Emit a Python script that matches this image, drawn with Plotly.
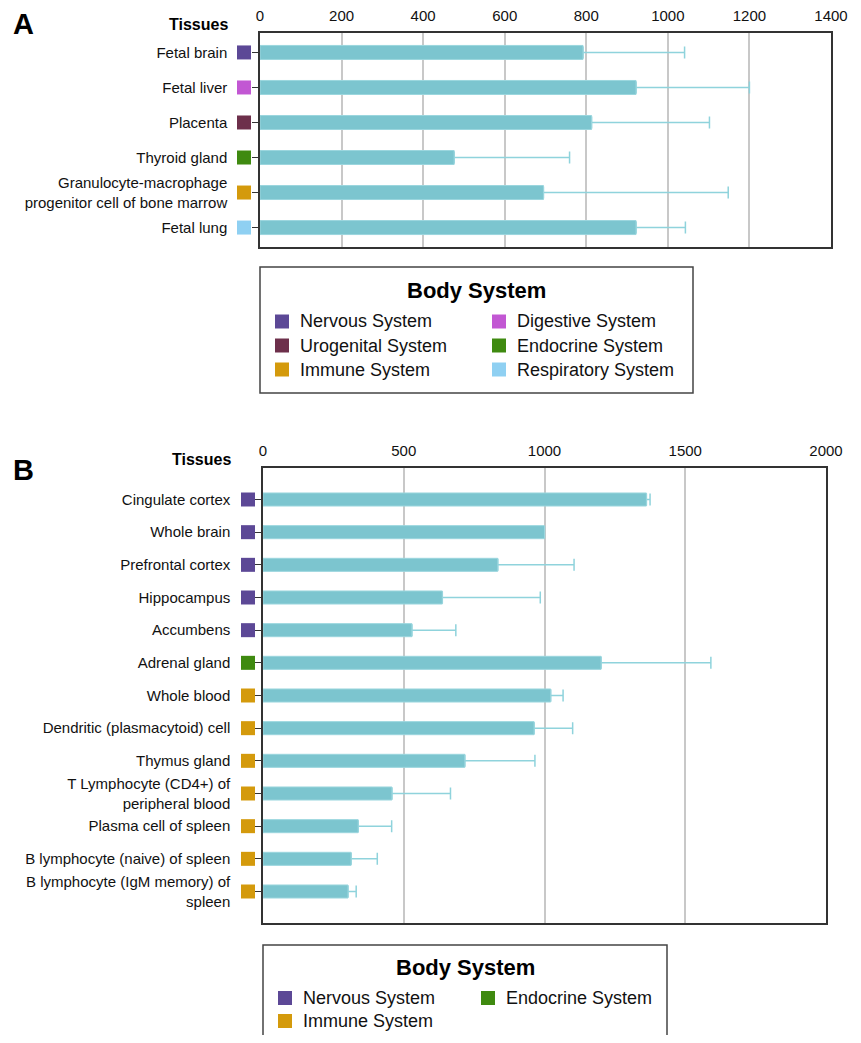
import plotly.graph_objects as go

# ---------------- data ----------------
tissues_a = ["Fetal brain", "Fetal liver", "Placenta", "Thyroid gland",
             "Granulocyte-macrophage<br>progenitor cell of bone marrow", "Fetal lung"]
values_a = [792, 922, 813, 476, 695, 922]
errors_a = [249, 278, 289, 283, 453, 121]
systems_a = ["Nervous System", "Digestive System", "Urogenital System",
             "Endocrine System", "Immune System", "Respiratory System"]
ticks_a = [0, 200, 400, 600, 800, 1000, 1200, 1400]

tissues_b = ["Cingulate cortex", "Whole brain", "Prefrontal cortex", "Hippocampus",
             "Accumbens", "Adrenal gland", "Whole blood", "Dendritic (plasmacytoid) cell",
             "Thymus gland", "T Lymphocyte (CD4+) of<br>peripheral blood",
             "Plasma cell of spleen", "B lymphocyte (naive) of spleen",
             "B lymphocyte (IgM memory) of<br>spleen"]
values_b = [1362, 1000, 834, 637, 529, 1201, 1022, 963, 717, 458, 338, 313, 302]
errors_b = [13, None, 271, 348, 156, 390, 44, 137, 249, 208, 119, 93, 29]
systems_b = ["Nervous System", "Nervous System", "Nervous System", "Nervous System",
             "Nervous System", "Endocrine System", "Immune System", "Immune System",
             "Immune System", "Immune System", "Immune System", "Immune System",
             "Immune System"]
ticks_b = [0, 500, 1000, 1500, 2000]

legend_a = ["Nervous System", "Digestive System", "Urogenital System",
            "Endocrine System", "Immune System", "Respiratory System"]
legend_b = ["Nervous System", "Endocrine System", "Immune System"]

system_colors = {
    "Nervous System": "#5c4896",
    "Digestive System": "#c257d3",
    "Urogenital System": "#6d2f4b",
    "Endocrine System": "#3f8a10",
    "Immune System": "#d49a0c",
    "Respiratory System": "#8fd0f2",
}

# ---------------- geometry helpers ----------------
PAGE_MARGIN = 8
FW, FH = 861 - 2 * PAGE_MARGIN, 1027


def fx(x):
    return (x - PAGE_MARGIN) / FW


def fy(y):
    return 1 - (y - PAGE_MARGIN) / FH


FONT = "Liberation Sans, Arial, sans-serif"
BAR = "#7cc5cf"
BAR_EDGE = "#9bd6de"
ERR = "#8fd3dc"
LINE = "#333333"
GRID = "#c8c8c8"

panels = [
    dict(letter="A", tissues=tissues_a, values=values_a, errors=errors_a,
         systems=systems_a, ticks=ticks_a, plot=(260, 33, 831, 247),
         swatch_x=(237, 251), label_right=229, letter_y=24, tissues_y=24,
         legend=legend_a, box=(260, 267, 693, 393), title_y=291,
         cols=(275, 492), row0=321.5, row_step=24),
    dict(letter="B", tissues=tissues_b, values=values_b, errors=errors_b,
         systems=systems_b, ticks=ticks_b, plot=(263, 468, 826, 923),
         swatch_x=(241, 255), label_right=232, letter_y=470, tissues_y=460,
         legend=legend_b, box=(263, 945, 667, 1060), title_y=967,
         cols=(278, 481), row0=998, row_step=23),
]

fig = go.Figure()
layout = dict(
    width=FW, height=FH, autosize=False, margin=dict(l=0, r=0, t=0, b=0, pad=0),
    paper_bgcolor="white", plot_bgcolor="white", showlegend=False,
    barmode="overlay", font=dict(family=FONT, color="#111111"),
)
shapes = []
annotations = []

for i, p in enumerate(panels):
    n = len(p["tissues"])
    xm = "x" if i == 0 else "x%d" % (i + 1)
    ym = "y" if i == 0 else "y%d" % (i + 1)
    xs = "x%d" % (i + 3)
    x0, y0, x1, y1 = p["plot"]

    errs = [float("nan") if e is None else e for e in p["errors"]]
    # error bars (drawn first so that the bar hides the base cap)
    fig.add_trace(go.Bar(
        x=p["values"], y=p["tissues"], orientation="h", width=0.4,
        marker=dict(color="rgba(0,0,0,0)", line=dict(width=0)),
        error_x=dict(type="data", symmetric=False, array=errs,
                     arrayminus=[0] * n, color=ERR, thickness=1.5, width=6),
        xaxis=xm, yaxis=ym, hoverinfo="skip",
    ))
    fig.add_trace(go.Bar(
        x=p["values"], y=p["tissues"], orientation="h", width=0.4,
        marker=dict(color=BAR, line=dict(color=BAR_EDGE, width=1)),
        xaxis=xm, yaxis=ym,
    ))
    # body-system colour squares next to the tissue names
    fig.add_trace(go.Scatter(
        x=[0.5] * n, y=p["tissues"], mode="markers",
        marker=dict(symbol="square", size=14,
                    color=[system_colors[s] for s in p["systems"]],
                    line=dict(width=0)),
        xaxis=xs, yaxis=ym, hoverinfo="skip",
    ))

    layout[("xaxis" if i == 0 else "xaxis%d" % (i + 1))] = dict(
        domain=[fx(x0), fx(x1)], anchor=ym, side="top", automargin=False,
        range=[p["ticks"][0], p["ticks"][-1]], tickmode="array",
        tickvals=p["ticks"], ticks="", showgrid=True, gridcolor=GRID,
        gridwidth=1.5, zeroline=False, showline=True, mirror=True,
        linecolor=LINE, linewidth=1.5, tickfont=dict(size=15, color="#111"),
        ticklabelstandoff=4, fixedrange=True,
    )
    layout[("yaxis" if i == 0 else "yaxis%d" % (i + 1))] = dict(
        domain=[fy(y1), fy(y0)], anchor=xm, type="category", automargin=False,
        categoryorder="array", categoryarray=p["tissues"],
        autorange="reversed", showline=True, mirror=True, linecolor=LINE,
        linewidth=1.5, ticks="outside", ticklen=6, tickcolor=LINE,
        tickwidth=1, showgrid=False, zeroline=False,
        tickfont=dict(size=15, color="#111"), ticklabelstandoff=22,
        fixedrange=True,
    )
    layout["xaxis%d" % (i + 3)] = dict(
        domain=[fx(p["swatch_x"][0]), fx(p["swatch_x"][1])], anchor=ym,
        range=[0, 1], visible=False, fixedrange=True, automargin=False,
    )

    # panel letter and column heading
    annotations.append(dict(
        text="<b>%s</b>" % p["letter"], x=fx(23), y=fy(p["letter_y"]),
        xref="paper", yref="paper", xanchor="center", yanchor="middle",
        showarrow=False, font=dict(size=29, color="#000")))
    annotations.append(dict(
        text="<b>Tissues</b>", x=fx(p["label_right"] + 1), y=fy(p["tissues_y"]),
        xref="paper", yref="paper", xanchor="right", yanchor="middle",
        showarrow=False, font=dict(size=16, color="#000")))

    # custom legend box
    bx0, by0, bx1, by1 = p["box"]
    shapes.append(dict(type="rect", xref="paper", yref="paper",
                       x0=fx(bx0), x1=fx(bx1), y0=fy(by1), y1=fy(by0),
                       line=dict(color="#444444", width=1.5),
                       fillcolor="white", layer="below"))
    annotations.append(dict(
        text="<b>Body System</b>", x=fx((bx0 + bx1) / 2), y=fy(p["title_y"]),
        xref="paper", yref="paper", xanchor="center", yanchor="middle",
        showarrow=False, font=dict(size=22, color="#000")))
    for k, name in enumerate(p["legend"]):
        cx = p["cols"][k % 2]
        cy = p["row0"] + (k // 2) * p["row_step"]
        shapes.append(dict(type="rect", xref="paper", yref="paper",
                           x0=fx(cx), x1=fx(cx + 14), y0=fy(cy + 7), y1=fy(cy - 7),
                           line=dict(width=0), fillcolor=system_colors[name]))
        annotations.append(dict(
            text=name, x=fx(cx + 23), y=fy(cy), xref="paper", yref="paper",
            xanchor="left", yanchor="middle", showarrow=False,
            font=dict(size=18, color="#111")))

layout["shapes"] = shapes
layout["annotations"] = annotations
fig.update_layout(**layout)
fig.write_html("out.html")
